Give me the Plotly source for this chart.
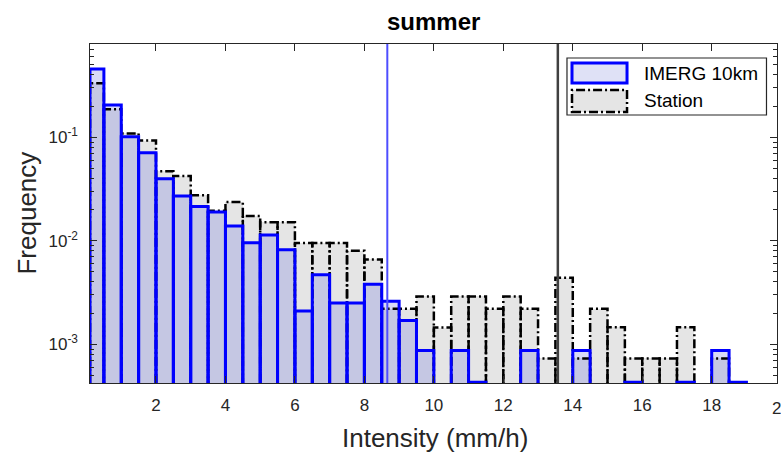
import numpy as np
import plotly.graph_objects as go

# ---------------- data ----------------
bin_edges = np.r_[0.1, np.arange(0.5, 19.01, 0.5)]          # mm/h
imerg_freq = [0.457, 0.205, 0.101, 0.071, 0.0398, 0.0271, 0.0214, 0.0190, 0.0139, 0.0096,
              0.0114, 0.0082, 0.0021, 0.0047, 0.0025, 0.0025, 0.0038, 0.0026, 0.0017, 0.00087,
              None, 0.00087, 0.00043, None, None, 0.00087, None, None, 0.00087, None,
              None, 0.00043, None, None, 0.00043, None, 0.00087, 0.00043]
station_freq = [0.333, 0.187, 0.109, 0.093, 0.047, 0.0423, 0.0275, 0.0195, 0.0237, 0.0174,
                0.0151, 0.0151, 0.0095, 0.0095, 0.0095, 0.0080, 0.0066, 0.0022, 0.0022, 0.0029,
                0.00145, 0.0029, 0.0029, 0.0022, 0.0029, 0.0022, 0.00073, 0.0044, 0.00073, 0.0022,
                0.00146, 0.00073, 0.00073, 0.00073, 0.00146, None, 0.00073, None]
imerg_mean = 8.66
station_mean = 13.57
x_ticks = [2, 4, 6, 8, 10, 12, 14, 16, 18, 20]
y_ticks = [1e-3, 1e-2, 1e-1]
y_ticktext = ['10<sup>-3</sup>', '10<sup>-2</sup>', '10<sup>-1</sup>']
series_names = ['IMERG 10km', 'Station']
title_text = 'summer'
x_title = 'Intensity (mm/h)'
y_title = 'Frequency'

# ---------------- style ----------------
FONT = 'Liberation Sans, Arial, Helvetica, sans-serif'
AX = '#262626'
X_RANGE = [0.1, 19.88]
Y_LOG_RANGE = [-3.374, -0.0986]
y_bottom = 10 ** Y_LOG_RANGE[0]
BLUE = '#0000ff'
BLUE_FILL = 'rgba(110,120,220,0.27)'
GRAY_FILL = '#e5e5e5'
DASHDOT = '9px,3px,2px,3px'
LABEL_PAD = '&nbsp;&nbsp;'   # keeps the y tick labels a little off the axis line

edges = np.asarray(bin_edges)
centers = (edges[:-1] + edges[1:]) / 2
widths = edges[1:] - edges[:-1]


def outline(vals):
    xs, ys = [], []
    for x0, x1, v in zip(edges[:-1], edges[1:], vals):
        if v is None:
            continue
        xs += [x0, x0, x1, x1, None]
        ys += [y_bottom, v, v, y_bottom, None]
    return xs, ys


fig = go.Figure()
fig.add_trace(go.Bar(x=centers, y=station_freq, width=widths, marker_color=GRAY_FILL,
                     marker_line_width=0, name=series_names[1]))
fig.add_trace(go.Bar(x=centers, y=imerg_freq, width=widths, marker_color=BLUE_FILL,
                     marker_line_width=0, name=series_names[0]))
sx, sy = outline(station_freq)
fig.add_trace(go.Scatter(x=sx, y=sy, mode='lines', line=dict(color='black', width=2.5, dash=DASHDOT),
                         hoverinfo='skip', showlegend=False))
bx, by = outline(imerg_freq)
fig.add_trace(go.Scatter(x=bx, y=by, mode='lines', line=dict(color=BLUE, width=3),
                         hoverinfo='skip', showlegend=False))

fig.add_vline(x=imerg_mean, line=dict(color='#4d4dff', width=2), layer='above')
fig.add_vline(x=station_mean, line=dict(color='#404040', width=2.5), layer='above')

minor_vals = [m * 10.0 ** e for e in range(-4, 0) for m in range(2, 10)]

fig.update_layout(
    width=781, height=455,
    margin=dict(l=90, r=4, t=44, b=72),
    paper_bgcolor='white', plot_bgcolor='white',
    barmode='overlay', bargap=0, showlegend=False,
    font=dict(family=FONT, size=17, color=AX),
    xaxis=dict(range=X_RANGE, tickvals=x_ticks, ticks='inside', ticklen=7, tickwidth=1.3,
               tickcolor=AX, showline=True, linecolor=AX, linewidth=1.3, mirror='ticks',
               showgrid=False, zeroline=False, ticklabelstandoff=6,
               tickfont=dict(family=FONT, size=17, color=AX)),
    yaxis=dict(type='log', range=Y_LOG_RANGE, tickvals=y_ticks,
               ticktext=[t + LABEL_PAD for t in y_ticktext],
               ticks='inside', ticklen=7, tickwidth=1.3, tickcolor=AX,
               showline=True, linecolor=AX, linewidth=1.3, mirror='ticks',
               showgrid=False, zeroline=False, ticklabelstandoff=-2,
               tickfont=dict(family=FONT, size=17, color=AX),
               minor=dict(tickvals=minor_vals, ticks='inside', ticklen=4, tickwidth=1,
                          tickcolor=AX, showgrid=False)),
)

# titles
fig.add_annotation(text='<b>%s</b>' % title_text, xref='paper', yref='paper', x=0.5, y=1.065,
                   xanchor='center', yanchor='middle', showarrow=False,
                   font=dict(family=FONT, size=24, color='black'))
fig.add_annotation(text=x_title, xref='paper', yref='paper', x=0.502, y=-0.162,
                   xanchor='center', yanchor='middle', showarrow=False,
                   font=dict(family=FONT, size=26, color=AX))
fig.add_annotation(text=y_title, xref='paper', yref='paper', x=-0.0931, y=0.5, textangle=-90,
                   xanchor='center', yanchor='middle', showarrow=False,
                   font=dict(family=FONT, size=26, color=AX))
# last x tick label, which lies just beyond the axis limit (placed via the axis' linear scale)
x_last_paper = (x_ticks[-1] - X_RANGE[0]) / (X_RANGE[1] - X_RANGE[0])
fig.add_annotation(text=str(x_ticks[-1]), xref='paper', yref='paper', x=x_last_paper, y=0,
                   yshift=-25, xanchor='center', yanchor='middle', showarrow=False,
                   font=dict(family=FONT, size=17, color=AX))

# legend (drawn manually to reproduce wide patch symbols)
fig.add_shape(type='rect', xref='paper', yref='paper', x0=0.6943, x1=0.9847, y0=0.7906, y1=0.9587,
              line=dict(color=AX, width=1.2), fillcolor='white', layer='above')
fig.add_shape(type='rect', xref='paper', yref='paper', x0=0.7016, x1=0.7817, y0=0.8850, y1=0.9440,
              line=dict(color=BLUE, width=3), fillcolor='#dfe1f6', layer='above')
fig.add_shape(type='rect', xref='paper', yref='paper', x0=0.7016, x1=0.7817, y0=0.7994, y1=0.8643,
              line=dict(color='black', width=2.5, dash=DASHDOT), fillcolor=GRAY_FILL, layer='above')
fig.add_annotation(text=series_names[0], xref='paper', yref='paper', x=0.8031, y=0.9136,
                   xanchor='left', yanchor='middle', showarrow=False,
                   font=dict(family=FONT, size=19, color='black'))
fig.add_annotation(text=series_names[1], xref='paper', yref='paper', x=0.8031, y=0.8319,
                   xanchor='left', yanchor='middle', showarrow=False,
                   font=dict(family=FONT, size=19, color='black'))

fig.write_html('out.html')
